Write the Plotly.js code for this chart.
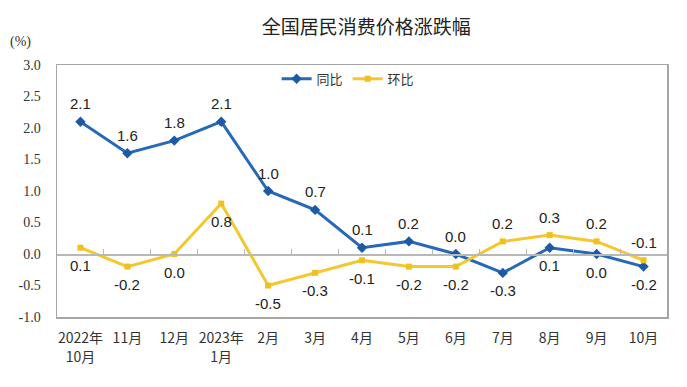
<!DOCTYPE html>
<html><head><meta charset="utf-8">
<script src="https://cdn.plot.ly/plotly-3.0.1.min.js"></script>
<style>body{margin:0;background:#fff}#c{width:687px;height:387px}</style>
</head><body><div id="c"></div>
<script>
const categories = ["2022年<br>10月","11月","12月","2023年<br>1月","2月","3月","4月","5月","6月","7月","8月","9月","10月"];
const yoy = [2.1, 1.6, 1.8, 2.1, 1.0, 0.7, 0.1, 0.2, 0.0, -0.3, 0.1, 0.0, -0.2];
const mom = [0.1, -0.2, 0.0, 0.8, -0.5, -0.3, -0.1, -0.2, -0.2, 0.2, 0.3, 0.2, -0.1];
// 1 = label above the point, -1 = below
const yoySide = [1,1,1,1,1,1,1,1,1,-1,-1,-1,-1];
const momSide = [-1,-1,-1,-1,-1,-1,-1,-1,-1,1,1,1,1];
const yTicks = [-1.0,-0.5,0.0,0.5,1.0,1.5,2.0,2.5,3.0];

const fmt = v => v.toFixed(1);
const labelFont = {family:"Liberation Sans, Arial, sans-serif", size:15, color:"#222"};

const traces = [
 {x: categories, y: yoy, name: "同比", type: "scatter", mode: "lines+markers",
  line: {color: "#2569b8", width: 3}, marker: {symbol: "diamond", size: 8, color: "#1d5aa6"}},
 {x: categories, y: mom, name: "环比", type: "scatter", mode: "lines+markers",
  line: {color: "#f2c82e", width: 3}, marker: {symbol: "square", size: 6, color: "#f0c020"}},
 {x: categories, y: yoy.map(()=>null), xaxis: "x2", showlegend: false, hoverinfo: "skip", type: "scatter", mode: "lines"}
];

const labels = [];
function addLabels(vals, sides) {
  vals.forEach((v, i) => labels.push({x: categories[i], y: v, xref: "x", yref: "y", text: fmt(v),
    showarrow: false, yshift: sides[i] * 18, xanchor: "center", yanchor: "middle", font: labelFont}));
}
addLabels(yoy, yoySide);
addLabels(mom, momSide);

const layout = {
 width: 687, height: 387,
 margin: {l: 57, r: 20, t: 65, b: 70},
 paper_bgcolor: "#fff", plot_bgcolor: "#fff",
 title: {text: "全国居民消费价格涨跌幅", x: 0.533, xanchor: "center", y: 0.93, yanchor: "middle",
   font: {family: "Noto Sans CJK SC, sans-serif", size: 19, color: "#222"}},
 xaxis: {type: "category", showgrid: false, zeroline: false, showline: true, linecolor: "#a6a6a6", linewidth: 1.5,
   mirror: true, ticks: "", ticklabelstandoff: 8, tickfont: {family: "Noto Sans CJK SC, sans-serif", size: 14, color: "#333"},
   range: [-0.5, 12.5]},
 xaxis2: {type: "category", overlaying: "x", anchor: "free", position: 0.25, side: "bottom",
   showline: true, linecolor: "#b8b8b8", linewidth: 1.5, ticks: "inside", tickson: "boundaries",
   ticklen: 5, tickcolor: "#b8b8b8", showticklabels: false, showgrid: false, zeroline: false,
   range: [-0.5, 12.5]},
 yaxis: {range: [-1.0, 3.0], tickvals: yTicks, ticktext: yTicks.map(fmt), showgrid: false, zeroline: false,
   showline: true, linecolor: "#a6a6a6", linewidth: 1.5, mirror: true, ticks: "", ticklabelstandoff: 12,
   tickfont: {family: "Liberation Serif, Times New Roman, serif", size: 14, color: "#333"}},
 legend: {orientation: "h", x: 0.36, y: 0.945, xanchor: "left", yanchor: "middle",
   font: {family: "Noto Sans CJK SC, sans-serif", size: 13, color: "#333"}, bgcolor: "rgba(0,0,0,0)"},
 annotations: labels.concat([{text: "(%)", xref: "paper", yref: "paper", x: -0.06, y: 1.09, xanchor: "center", yanchor: "middle",
   showarrow: false, font: {family: "Liberation Serif, Times New Roman, serif", size: 14, color: "#333"}}])
};
Plotly.newPlot("c", traces, layout, {displayModeBar: false, staticPlot: true});
</script></body></html>
